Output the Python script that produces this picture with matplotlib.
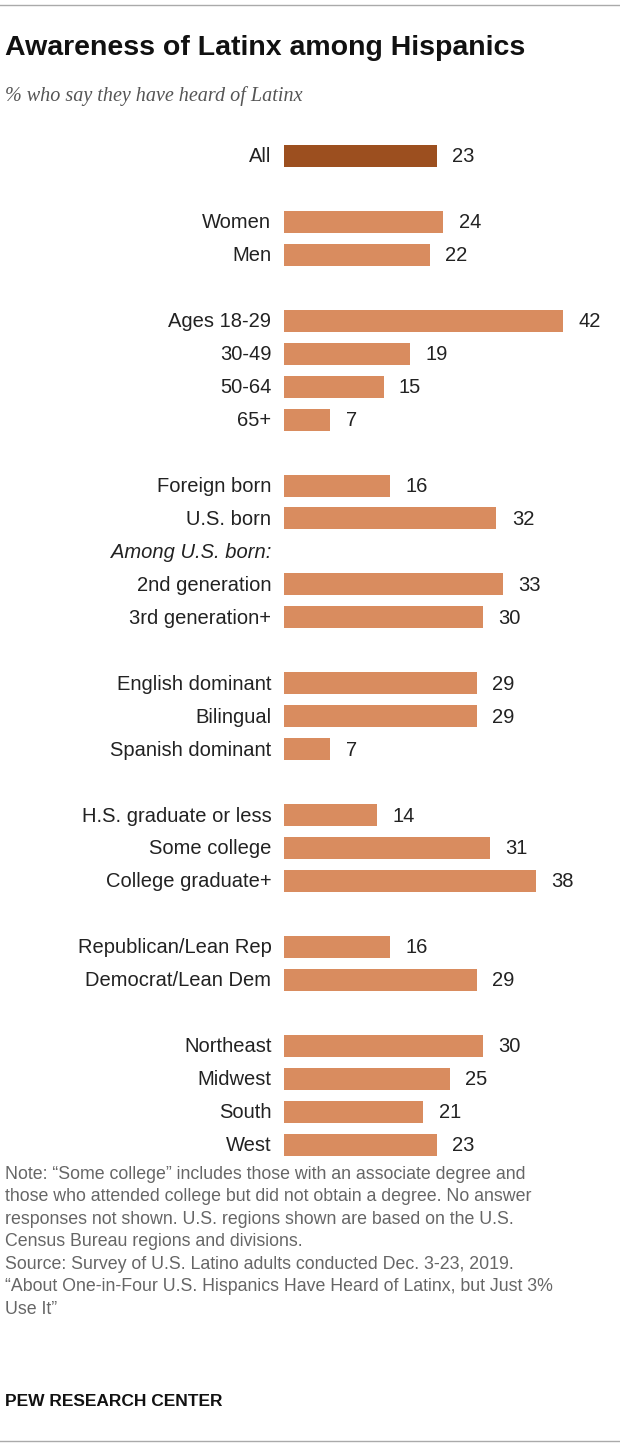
import matplotlib.pyplot as plt

labels = ["All", "Women", "Men", "Ages 18-29", "30-49", "50-64", "65+",
          "Foreign born", "U.S. born", "2nd generation", "3rd generation+",
          "English dominant", "Bilingual", "Spanish dominant",
          "H.S. graduate or less", "Some college", "College graduate+",
          "Republican/Lean Rep", "Democrat/Lean Dem",
          "Northeast", "Midwest", "South", "West"]
values = [23, 24, 22, 42, 19, 15, 7, 16, 32, 33, 30, 29, 29, 7,
          14, 31, 38, 16, 29, 30, 25, 21, 23]
# row slot for each bar (gaps between groups)
slots = [0, 2, 3, 5, 6, 7, 8, 10, 11, 13, 14, 16, 17, 18,
         20, 21, 22, 24, 25, 27, 28, 29, 30]

W, H = 620, 1448
fig = plt.figure(figsize=(W / 100, H / 100), dpi=100)
plt.rcParams['font.family'] = ['Liberation Sans', 'DejaVu Sans']

px_per_unit = 6.64
left = 284
ax = fig.add_axes([left / W, 0, 1 - left / W, 1])
ax.set_xlim(0, (W - left) / px_per_unit)
ax.set_ylim(H, 0)
ax.axis('off')

y0, step = 156, 32.95
ys = [y0 + s * step for s in slots]
colors = ['#9c4f1f'] + ['#d98c5f'] * (len(values) - 1)
ax.barh(ys, values, height=22, color=colors)
for y, v, lab in zip(ys, values, labels):
    ax.text(v + 2.3, y + 1, str(v), va='center', ha='left', fontsize=14.5, color='#222222')
    ax.text(-1.9, y + 1, lab, va='center', ha='right', fontsize=14.5, color='#222222')
ax.text(-1.9, y0 + 12 * step + 1, "Among U.S. born:", va='center', ha='right',
        fontsize=14.5, style='italic', color='#222222')

fig.text(5 / W, 1 - 48 / H, "Awareness of Latinx among Hispanics", fontsize=20.5,
         fontweight='bold', va='center', ha='left', color='#111111')
fig.text(5 / W, 1 - 96 / H, "% who say they have heard of Latinx", fontsize=14.5,
         style='italic', family=['Liberation Serif'], va='center', ha='left', color='#555555')

note = ("Note: \u201cSome college\u201d includes those with an associate degree and\n"
        "those who attended college but did not obtain a degree. No answer\n"
        "responses not shown. U.S. regions shown are based on the U.S.\n"
        "Census Bureau regions and divisions.\n"
        "Source: Survey of U.S. Latino adults conducted Dec. 3-23, 2019.\n"
        "\u201cAbout One-in-Four U.S. Hispanics Have Heard of Latinx, but Just 3%\n"
        "Use It\u201d")
fig.text(5 / W, 1 - 1166 / H, note, fontsize=12.8, va='top', ha='left',
         color='#666666', linespacing=1.42)
fig.text(5 / W, 1 - 1402 / H, "PEW RESEARCH CENTER", fontsize=12.5, fontweight='bold',
         va='center', ha='left', color='#111111')

for yy in (5, 1441):
    fig.add_artist(plt.Line2D([0, 1], [1 - yy / H] * 2, color='#aaaaaa', lw=1))

fig.savefig('out.png', dpi=100)
